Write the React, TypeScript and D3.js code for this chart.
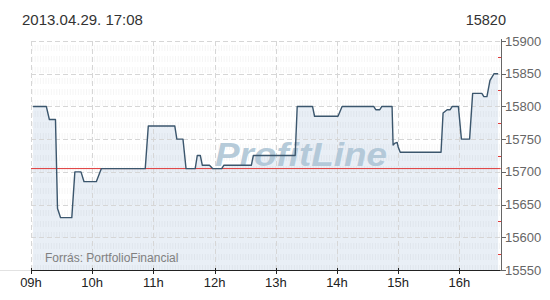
import React from "react";
import * as d3 from "d3";

const times = [
  "09:02","09:15","09:18","09:24","09:26","09:29","09:40","09:43","09:49","09:52",
  "10:04","10:09","10:52","10:55","11:21","11:23","11:29","11:32","11:41","11:43",
  "11:46","11:48","11:55","11:58","12:07","12:09","12:36","12:38","13:19","13:21",
  "13:36","13:38","14:01","14:05","14:36","14:38","14:42","14:44","14:54","14:55",
  "14:57","14:59","15:00","15:02","15:42","15:44","15:48","15:51","15:53","15:59",
  "16:02","16:10","16:13","16:22","16:24","16:27","16:30","16:34","16:38",
];
const values = [
  15800,15800,15780,15780,15644,15630,15630,15700,15700,15685,
  15685,15705,15705,15770,15770,15750,15750,15705,15705,15725,
  15725,15710,15710,15705,15705,15710,15710,15725,15725,15800,
  15800,15785,15785,15800,15800,15795,15795,15800,15800,15741,
  15744,15745,15738,15730,15730,15790,15795,15795,15800,15800,
  15750,15750,15820,15820,15815,15815,15840,15850,15850,
];
const hourTicks = [9, 10, 11, 12, 13, 14, 15, 16];
const hourLabels = ["09h", "10h", "11h", "12h", "13h", "14h", "15h", "16h"];
const yTicks = [15550, 15600, 15650, 15700, 15750, 15800, 15850, 15900];
const refValue = 15705;
const titleLeft = "2013.04.29. 17:08";
const titleRight = "15820";
const sourceText = "Forrás: PortfolioFinancial";
const watermark = "ProfitLine";
const domainStartMin = 9 * 60;
const domainEndMin = 16 * 60 + 40.5;

const toMin = (t: string) => {
  const [h, m] = t.split(":").map(Number);
  return h * 60 + m;
};

export default function App() {
  const W = 550, H = 300;
  const left = 31, right = 500.7, top = 41, bottom = 270;
  const x = d3.scaleLinear().domain([domainStartMin, domainEndMin]).range([left, right]);
  const y = d3.scaleLinear().domain([15550, 15900]).range([bottom, top]);
  const data = times.map((t, i) => ({ t: toMin(t), v: values[i] }));
  const line = d3.line<{ t: number; v: number }>().x(d => x(d.t)).y(d => y(d.v));
  const area = d3.area<{ t: number; v: number }>().x(d => x(d.t)).y0(bottom).y1(d => y(d.v));
  const font = "Liberation Sans, Arial, sans-serif";

  const minorXs: number[] = [];
  for (let px = left + 1.5; px < right; px += 2.7) minorXs.push(px);
  const minorY = yTicks.slice(0, -1).map(v => (v + 25));

  return (
    <svg width={W} height={H} style={{ position: "absolute", left: 0, top: 0, background: "#fff" }}>
      <text x={22} y={25} fontFamily={font} fontSize={15} fill="#333">{titleLeft}</text>
      <text x={506} y={25} fontFamily={font} fontSize={14.5} fill="#333" textAnchor="end">{titleRight}</text>

      <line x1={0} x2={left} y1={bottom + 0.5} y2={bottom + 0.5} stroke="#e2e2e2" />

      <path d={area(data) || ""} fill="#e9eff6" />

      <g stroke="#000" strokeOpacity={0.04} strokeWidth={1}>
        {minorXs.map((px, i) => (
          <line key={i} x1={px} x2={px} y1={top + 4} y2={bottom} strokeDasharray="6,5" />
        ))}
      </g>

      <g stroke="#d6d6d6" strokeWidth={1} strokeDasharray="5,3">
        {yTicks.slice(1).map(v => (
          <line key={v} x1={left} x2={right} y1={Math.round(y(v)) + 0.5} y2={Math.round(y(v)) + 0.5} />
        ))}
        {hourTicks.map(h => (
          <line key={h} x1={Math.round(x(h * 60)) + 0.5} x2={Math.round(x(h * 60)) + 0.5} y1={top} y2={bottom} />
        ))}
      </g>

      <text x={215} y={166} fontFamily={font} fontSize={33} fontWeight="bold" fontStyle="italic"
        fill="#afc6d6" fillOpacity={0.92} textLength={172} lengthAdjust="spacingAndGlyphs">{watermark}</text>

      <line x1={left} x2={right} y1={y(refValue)} y2={y(refValue)} stroke="#e03a3a" strokeWidth={1} />

      <path d={line(data) || ""} fill="none" stroke="#3b566d" strokeWidth={1.4} strokeLinejoin="round" />

      <text x={45} y={262} fontFamily={font} fontSize={12} fill="#808080">{sourceText}</text>

      <line x1={left} x2={right} y1={bottom + 0.5} y2={bottom + 0.5} stroke="#222" />
      {hourTicks.map((h, i) => (
        <g key={h}>
          <line x1={Math.round(x(h * 60)) + 0.5} x2={Math.round(x(h * 60)) + 0.5} y1={bottom - 2} y2={bottom + 4} stroke="#222" />
          <text x={x(h * 60)} y={287} fontFamily={font} fontSize={13} fill="#222" textAnchor="middle">{hourLabels[i]}</text>
        </g>
      ))}

      <line x1={Math.round(right) + 0.5} x2={Math.round(right) + 0.5} y1={top - 2} y2={bottom} stroke="#666" />
      {yTicks.map(v => (
        <g key={v}>
          <line x1={Math.round(right)} x2={Math.round(right) + 5} y1={Math.round(y(v)) + 0.5} y2={Math.round(y(v)) + 0.5} stroke="#666" />
          <text x={505} y={y(v) + 4.5} fontFamily={font} fontSize={13} fill="#666">{v}</text>
        </g>
      ))}
      {minorY.map(v => (
        <line key={v} x1={Math.round(right) - 3} x2={Math.round(right)} y1={Math.round(y(v)) + 0.5} y2={Math.round(y(v)) + 0.5} stroke="#e03a3a" />
      ))}
    </svg>
  );
}
